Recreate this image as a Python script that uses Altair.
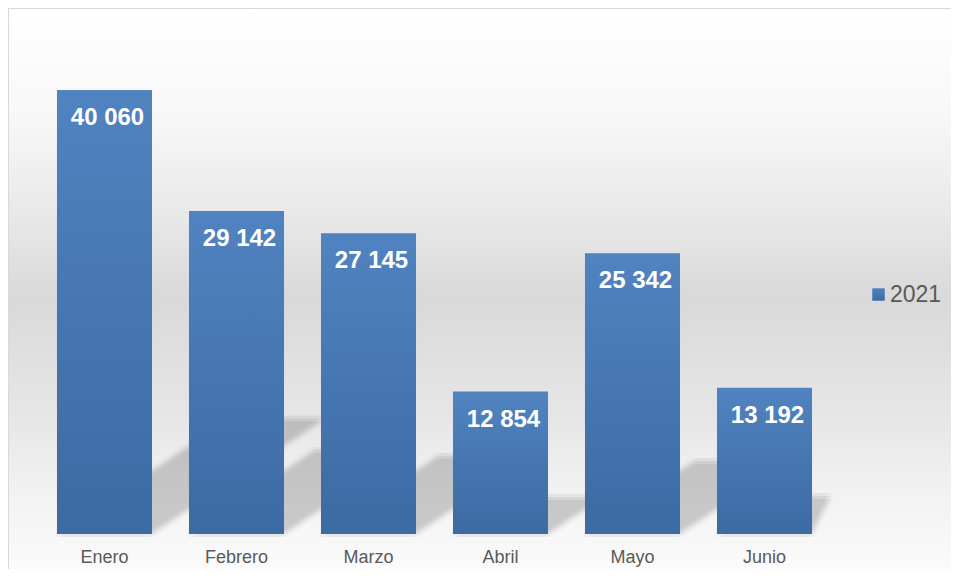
import altair as alt
import pandas as pd

months = ["Enero", "Febrero", "Marzo", "Abril", "Mayo", "Junio"]
values = [40060, 29142, 27145, 12854, 25342, 13192]
series_name = "2021"

df = pd.DataFrame({"mes": months, "valor": values})
df["serie"] = series_name
df["etiqueta"] = [f"{v:,}".replace(",", " ") for v in values]

W, H = 943, 561
Y_MAX = 45000
Y_RANGE = [526, 27.3]
X_RANGE = [30.5, 822.5]
STEP = (X_RANGE[1] - X_RANGE[0]) / len(months)
PX_PER_UNIT = (Y_RANGE[0] - Y_RANGE[1]) / Y_MAX

# Perspective shadow of each bar: a parallelogram sheared back-right from the bar base
HALF = 0.36          # half bar width, in category steps
SHEAR_X = 0.39       # horizontal shift per pixel of bar height
SHEAR_Y = 0.26       # vertical rise per pixel of bar height
rows = []
for i, (m, v) in enumerate(zip(months, values)):
    s = v * PX_PER_UNIT * SHEAR_X / STEP
    top = v * SHEAR_Y
    for o, (sx, sy) in enumerate([(i - HALF, 0), (i + HALF, 0), (i + HALF + s, top), (i - HALF + s, top)]):
        rows.append({"mes": m, "o": o, "sx": sx, "sy": sy})
shadow_df = pd.DataFrame(rows)

x_scale = alt.Scale(domain=months, range=X_RANGE, paddingInner=0.28, paddingOuter=0.14)
y_scale = alt.Scale(domain=[0, Y_MAX], range=Y_RANGE, nice=False, zero=True)
sx_scale = alt.Scale(domain=[-0.5, len(months) - 0.5], range=X_RANGE, nice=False, zero=False, clamp=True)

x_axis = alt.Axis(title=None, domain=False, ticks=False, grid=False, labelAngle=0,
                  labelFontSize=18, labelColor="#595959", labelFont="Liberation Sans",
                  labelPadding=14, offset=-(H - Y_RANGE[0]), zindex=1)

bar_grad = alt.LinearGradient(
    gradient="linear", x1=0, x2=0, y1=0, y2=1,
    stops=[alt.GradientStop(color="#5083c0", offset=0),
           alt.GradientStop(color="#3c6aa3", offset=1)])

bg_grad = alt.LinearGradient(
    gradient="linear", x1=0, x2=0, y1=0, y2=1,
    stops=[
        alt.GradientStop(offset=0.0, color="#ffffff"),
        alt.GradientStop(offset=0.18, color="#f8f8f8"),
        alt.GradientStop(offset=0.36, color="#e8e8e8"),
        alt.GradientStop(offset=0.5, color="#d9d9d9"),
        alt.GradientStop(offset=0.7, color="#e6e6e6"),
        alt.GradientStop(offset=0.85, color="#f3f3f3"),
        alt.GradientStop(offset=1.0, color="#fdfdfd"),
    ])

# chart-area background; its right and bottom edges run past the visible page, as in the original
background = alt.Chart(pd.DataFrame({"k": [0]})).mark_rect(
    fill=bg_grad, stroke="#d9d9d9", strokeWidth=2
).encode(x=alt.value(0), x2=alt.value(W + 30), y=alt.value(0), y2=alt.value(H + 20))

shadow_layers = []
for dx in (-3, 0, 3):
    for dy in (-3, 0, 3):
        shadow_layers.append(
            alt.Chart(shadow_df).mark_line(
                fill="black", fillOpacity=0.021, strokeOpacity=0, strokeWidth=0,
                xOffset=dx, yOffset=dy
            ).encode(
                x=alt.X("sx:Q", scale=sx_scale, axis=None),
                y=alt.Y("sy:Q", scale=y_scale, axis=None),
                order="o:O",
                detail="mes:N",
            )
        )
shadows = alt.layer(*shadow_layers)

base = alt.Chart(df)

bars = base.mark_bar(fill=bar_grad, strokeWidth=0).encode(
    x=alt.X("mes:N", scale=x_scale, axis=x_axis, sort=months),
    y=alt.Y("valor:Q", scale=y_scale, axis=None),
    stroke=alt.Stroke("serie:N", scale=alt.Scale(range=["#4a7ab5"]),
                      legend=alt.Legend(title=None, orient="none", legendX=859, legendY=275,
                                        symbolType="square", symbolSize=156,
                                        symbolStrokeWidth=0, symbolFillColor="#4a7ab5",
                                        labelFontSize=23, labelColor="#595959",
                                        labelFont="Liberation Sans", labelOffset=0,
                                        padding=0)),
)

labels = base.mark_text(color="white", fontWeight="bold", fontSize=24,
                        font="Liberation Sans", baseline="middle", dy=28, dx=3).encode(
    x=alt.X("mes:N", scale=x_scale, axis=x_axis, sort=months),
    y=alt.Y("valor:Q", scale=y_scale, axis=None),
    text="etiqueta:N",
)

front = alt.layer(bars, labels)

chart = alt.layer(background, shadows, front).resolve_scale(x="independent").properties(
    width=W, height=H, padding=0,
    autosize=alt.AutoSizeParams(type="none"),
).configure_view(stroke=None)

chart.save("out.html", embed_options={"renderer": "svg", "actions": False})
